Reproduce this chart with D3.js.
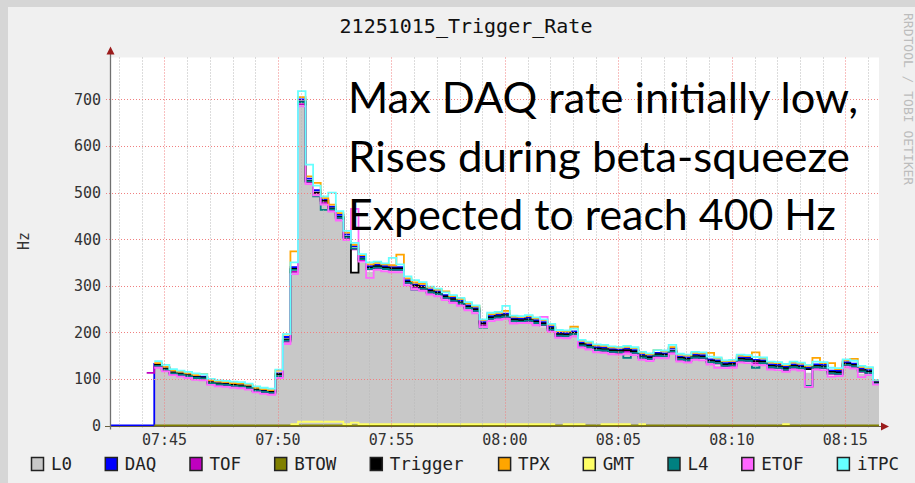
<!DOCTYPE html>
<html><head><meta charset="utf-8">
<script src="https://cdn.jsdelivr.net/npm/d3@7"></script>
<style>html,body{margin:0;padding:0;background:#f0f0f0;overflow:hidden}</style>
</head><body><svg id="c" width="915" height="483"></svg>
<script>
const chartTitle = "21251015_Trigger_Rate";
const yLabel = "Hz";
const watermark = "RRDTOOL / TOBI OETIKER";
const day = "2025-10-15";
const startTime = "07:42:33";
const stepSeconds = 20;
const viewStart = "07:42:36", viewEnd = "08:16:29";
const yMax = 790;
const yTicks = [0,100,200,300,400,500,600,700];
const xTickLabels = ["07:45","07:50","07:55","08:00","08:05","08:10","08:15"];
const noteLines = ["Max DAQ rate initially low,", "Rises during beta-squeeze", "Expected to reach 400 Hz"];

const seriesNames  = ["L0","DAQ","TOF","BTOW","Trigger","TPX","GMT","L4","ETOF","iTPC"];
const seriesColors = ["#c8c8c8","#0000ff","#c000c0","#808000","#000000","#ffa500","#ffff66","#008080","#ff66ff","#66ffff"];

const N = null;
const L0 = [N,N,N,N,N,N,
 124,116,108,105,102,98,97,
 87,84,83,81,80,77,71,68,66,
 102,178,328,
 688,518,494,474,459,440,398,
 328,350,330,334,331,329,329,
 301,292,289,281,277,269,263,257,247,241,
 211,224,227,229,219,218,220,215,211,201,
 188,187,191,167,163,157,156,153,152,154,151,
 141,138,145,144,154,137,135,141,140,131,129,
 123,124,135,134,130,129,120,119,115,120,118,
 113,120,119,107,106,125,122,111,108,88];
const DAQ = [0,0,0,0,0,0,
 132,124,116,113,110,106,105,
 95,92,91,89,88,85,79,76,74,
 112,190,340,
 700,530,505,485,470,452,410,
 385,362,342,345,342,340,340,
 312,303,300,292,288,280,274,268,258,252,
 222,235,238,240,230,229,231,226,222,212,
 199,198,202,178,174,168,167,164,163,165,162,
 152,149,156,155,165,148,146,152,151,142,140,
 134,135,146,145,141,140,131,130,126,131,129,
 124,131,130,118,117,136,133,122,119,94];
const TOF = [N,N,N,N,N,113,
 127,119,111,108,105,101,100,
 90,87,86,84,83,80,74,71,69,
 105,180,330,
 690,522,498,478,463,444,402,
 378,355,335,338,335,333,333,
 305,296,293,285,281,273,267,261,251,245,
 215,228,231,233,223,222,224,219,215,205,
 192,191,195,171,167,161,160,157,156,158,155,
 145,142,149,148,158,141,139,145,144,135,133,
 127,128,139,138,134,133,124,123,119,124,122,
 83,124,123,111,110,129,126,115,112,90];
const BTOW = [N,N,N,N,N,N,
 0,0,0,0,0,0,0, 0,0,0,0,0,0,0,0,0, 0,0,0, 0,0,0,0,0,0,0, 0,0,0,0,0,0,0,
 0,0,0,0,0,0,0,0,0,0, 0,0,0,0,0,0,0,0,0,0, 0,0,0,0,0,0,0,0,0,0,0,
 0,0,0,0,0,0,0,0,0,0,0, 0,0,0,0,0,0,0,0,0,0,0, 0,0,0,0,0,0,0,0,0,0];
const Trigger = [N,N,N,N,N,N,
 130,122,114,111,108,104,103,
 93,90,89,88,86,83,78,74,72,
 110,185,336,
 695,525,500,482,466,448,405,
 328,358,339,342,339,337,337,
 309,300,297,289,285,277,271,265,255,249,
 219,232,235,237,227,226,228,223,219,209,
 196,195,199,175,171,165,164,161,160,162,159,
 149,146,153,152,160,145,143,149,148,139,137,
 131,132,143,142,138,137,128,127,123,128,126,
 121,128,127,115,114,133,130,119,116,92];
const TPX = [N,N,N,N,N,N,
 134,126,118,115,112,108,111,
 97,94,93,91,90,87,81,78,76,
 118,195,374,
 705,535,521,488,474,456,414,
 388,366,346,349,346,344,367,
 316,307,304,296,292,288,278,272,262,256,
 226,239,242,246,234,233,235,230,226,216,
 203,202,212,182,178,172,171,168,167,169,166,
 156,153,162,159,168,152,150,156,155,156,144,
 138,139,150,149,157,144,135,134,130,135,133,
 128,145,134,134,121,140,143,126,123,97];
const GMT = [N,N,N,N,N,N,N,N,N,N,N,N,N,N,N,N,N,N,N,N,N,N,N,N,
 3, 8,8,8,8,8,8, 3, 6,
 3,3,3,3,3,3,3,3,3,3,3,3,3,3,3,3,3,3,3,3,3,3,3,3,3,3,
 N, 3,3,3, N,N, 3,3,3,3, N, 3,
 N,N,N,N,N,N,N,N,N,N,N,N,N,N,N,N,N,N,
 3, N,N,N,N,N,N,N,N,N,N,N,N];
const L4 = [N,N,N,N,N,N,
 128,120,112,109,106,102,101,
 91,88,87,85,84,81,75,72,70,
 106,182,334,
 694,524,492,463,464,446,404,
 380,357,336,339,336,334,334,
 306,291,294,286,282,274,268,262,252,246,
 210,229,232,234,224,223,225,220,216,206,
 193,192,196,172,168,162,161,158,157,145,156,
 146,143,150,149,159,142,140,146,145,136,134,
 128,129,140,139,124,134,125,124,120,125,123,
 85,125,124,112,111,130,127,116,113,90];
const ETOF = [N,N,N,N,N,N,
 124,116,108,105,102,98,97,
 87,84,83,81,80,77,71,68,66,
 102,175,325,
 685,518,494,474,459,440,398,
 465,352,317,334,331,329,329,
 301,292,289,281,277,269,263,257,247,241,
 211,224,227,229,219,220,220,215,233,201,
 188,187,191,167,163,157,156,153,152,154,151,
 141,138,145,144,154,137,135,141,140,131,124,
 123,124,135,134,130,129,120,119,115,120,118,
 83,120,119,105,106,125,122,104,108,88];
const iTPC = [N,N,N,N,N,N,
 138,130,121,118,115,112,110,
 100,97,96,94,93,90,84,81,79,
 120,196,350,
 718,560,515,492,500,460,418,
 392,368,350,352,348,360,346,
 320,312,308,298,294,286,280,274,265,258,
 228,242,244,257,236,235,237,232,228,218,
 205,204,208,184,180,174,173,170,169,171,168,
 158,155,162,161,173,154,152,158,157,148,146,
 140,141,152,151,147,146,137,136,132,137,135,
 130,137,136,124,123,142,139,128,125,98];

const seriesData = [L0,DAQ,TOF,BTOW,Trigger,TPX,GMT,L4,ETOF,iTPC];

// ---------- drawing ----------
const W = 915, H = 483;
const parse = d3.timeParse("%Y-%m-%d %H:%M:%S");
const t0 = parse(day + " " + startTime);
const nPts = DAQ.length;
const times = d3.range(nPts + 1).map(i => new Date(t0.getTime() + i * stepSeconds * 1000));

const P = {left:110, right:879, top:57.5, bottom:425.5};
const x = d3.scaleTime().domain([parse(day+" "+viewStart), parse(day+" "+viewEnd)]).range([P.left, P.right]);
const y = d3.scaleLinear().domain([0, yMax]).range([P.bottom, P.top]);

const svg = d3.select("#c");
const mono = "'DejaVu Sans Mono', monospace";

svg.append("rect").attr("width", W).attr("height", H).attr("fill", "#f0f0f0");
svg.append("rect").attr("width", W).attr("height", 7).attr("fill", "#d6d6d6");
svg.append("rect").attr("width", 8).attr("height", H).attr("fill", "#d6d6d6");

// plot background
svg.append("rect").attr("x", P.left).attr("y", P.top).attr("width", P.right - P.left).attr("height", P.bottom - P.top).attr("fill", "#ffffff");

const defs = svg.append("defs");
defs.append("clipPath").attr("id", "clip").append("rect")
  .attr("x", P.left).attr("y", P.top - 2).attr("width", P.right - P.left).attr("height", P.bottom - P.top + 4);

// step expansion
function stepPts(arr) {
  const pts = [];
  arr.forEach((v, i) => {
    if (v == null) { pts.push({t: times[i], v: null}); return; }
    pts.push({t: times[i], v: v});
    pts.push({t: times[i+1], v: v});
  });
  return pts;
}

const gData = svg.append("g").attr("clip-path", "url(#clip)");

// L0 area
const area = d3.area().defined(d => d.v != null).x(d => x(d.t)).y0(y(0)).y1(d => y(d.v));
gData.append("path").attr("d", area(stepPts(L0))).attr("fill", seriesColors[0]);

// grid
const gGrid = svg.append("g");
const minutes = d3.timeMinute.every(1).range(x.domain()[0], x.domain()[1]);
minutes.forEach(m => {
  const major = m.getMinutes() % 5 === 0;
  gGrid.append("line")
    .attr("x1", Math.round(x(m)) + 0.5).attr("x2", Math.round(x(m)) + 0.5)
    .attr("y1", P.top).attr("y2", P.bottom + 3)
    .attr("stroke", major ? "#f08080" : "#b8b8b8")
    .attr("stroke-width", 1).attr("stroke-dasharray", "1,2");
});
yTicks.filter(v => v > 0).forEach(v => {
  gGrid.append("line")
    .attr("x1", P.left - 4).attr("x2", P.right)
    .attr("y1", Math.round(y(v)) + 0.5).attr("y2", Math.round(y(v)) + 0.5)
    .attr("stroke", "#f08080").attr("stroke-width", 1).attr("stroke-dasharray", "1,2");
});

// lines (rrdtool draw order)
const line = d3.line().defined(d => d.v != null).x(d => x(d.t)).y(d => y(d.v));
for (let k = 1; k < seriesData.length; k++) {
  gData.append("path").attr("d", line(stepPts(seriesData[k])))
    .attr("fill", "none").attr("stroke", seriesColors[k]).attr("stroke-width", 1.8)
    .attr("stroke-linejoin", "miter");
}

// axes
const axisColor = "#6a6040";
svg.append("line").attr("x1", P.left - 5).attr("x2", P.right + 4)
  .attr("y1", P.bottom + 1).attr("y2", P.bottom + 1).attr("stroke", axisColor).attr("stroke-width", 1.2);
svg.append("line").attr("x1", P.left + 0.5).attr("x2", P.left + 0.5)
  .attr("y1", P.top - 5).attr("y2", P.bottom + 4).attr("stroke", "#707070").attr("stroke-width", 1.3);
const arrowCol = "#9b1c1c";
svg.append("path").attr("d", `M${P.left+0.5},${P.top-11} L${P.left-3.5},${P.top-3} L${P.left+4.5},${P.top-3} Z`).attr("fill", arrowCol);
svg.append("path").attr("d", `M${P.right+10},${P.bottom+1} L${P.right+2},${P.bottom-3} L${P.right+2},${P.bottom+5} Z`).attr("fill", arrowCol);

// y tick labels
yTicks.forEach(v => {
  svg.append("text").attr("x", 101).attr("y", y(v)).attr("dy", "0.36em")
    .attr("text-anchor", "end").attr("font-family", mono).attr("font-size", 15).attr("fill", "#333")
    .text(d3.format("d")(v));
});
// x tick labels
const fmt = d3.timeFormat("%H:%M");
const labelTimes = xTickLabels.map(s => parse(day + " " + s + ":00"));
labelTimes.forEach((t, i) => {
  svg.append("text").attr("x", x(t)).attr("y", 444.5).attr("text-anchor", "middle")
    .attr("font-family", mono).attr("font-size", 15).attr("fill", "#333").text(fmt(t));
});

// y label
svg.append("text").attr("transform", "translate(29,241) rotate(-90)").attr("text-anchor", "middle")
  .attr("font-family", mono).attr("font-size", 15).attr("fill", "#333").text(yLabel);

// title
svg.append("text").attr("x", 466).attr("y", 33).attr("text-anchor", "middle")
  .attr("font-family", mono).attr("font-size", 20).attr("fill", "#111").text(chartTitle);

// watermark
svg.append("text").attr("transform", "translate(904,13) rotate(90)").attr("text-anchor", "start")
  .attr("font-family", mono).attr("font-size", 13).attr("fill", "#bcbcbc").text(watermark);

// legend
let lx = 31;
seriesNames.forEach((name, k) => {
  svg.append("rect").attr("x", lx + 0.5).attr("y", 457.5).attr("width", 12).attr("height", 13)
    .attr("fill", seriesColors[k]).attr("stroke", "#222").attr("stroke-width", 1.5);
  svg.append("text").attr("x", lx + 20).attr("y", 470).attr("font-family", mono).attr("font-size", 17.5)
    .attr("fill", "#222").text(name);
  lx += 52 + 10.9 * name.length;
});

// annotation
const noteBase = [113, 172, 230];
const noteWidth = [510, 502, 488];
noteLines.forEach((s, i) => {
  svg.append("text").attr("x", 348).attr("y", noteBase[i]).attr("font-family", "Lato, 'Open Sans', sans-serif")
    .attr("font-size", 42).attr("fill", "#000").attr("textLength", noteWidth[i]).attr("lengthAdjust", "spacingAndGlyphs")
    .text(s);
});
</script></body></html>
